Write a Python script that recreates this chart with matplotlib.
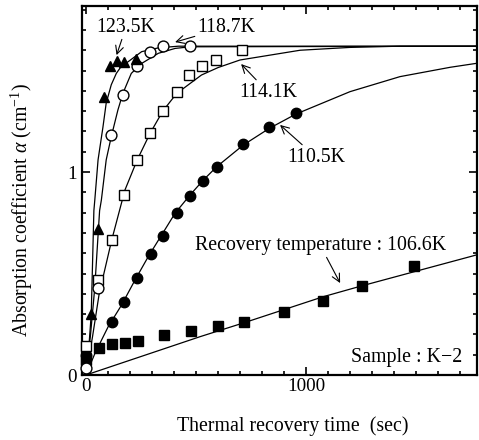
import matplotlib
matplotlib.use("Agg")
import matplotlib.pyplot as plt
from matplotlib.ticker import MultipleLocator, FixedLocator

plt.rcParams['font.family'] = ['Liberation Serif', 'DejaVu Serif']
plt.rcParams['mathtext.fontset'] = 'custom'
plt.rcParams['mathtext.rm'] = 'Liberation Serif'
plt.rcParams['mathtext.it'] = 'Liberation Serif:italic'

# ---- measured data points (time in sec, absorption coefficient in cm^-1) ----
t_1235 = [24, 55, 80, 109, 142, 173, 229]
a_1235 = [0.30, 0.72, 1.37, 1.52, 1.547, 1.543, 1.555]

t_1187 = [0, 56, 112, 170, 230, 291, 349, 471]
a_1187 = [0.033, 0.43, 1.18, 1.38, 1.52, 1.59, 1.62, 1.62]

t_1141 = [0, 56, 117, 174, 233, 291, 349, 412, 470, 529, 591, 710]
a_1141 = [0.144, 0.47, 0.665, 0.887, 1.06, 1.19, 1.30, 1.395, 1.48, 1.52, 1.55, 1.60]

t_1105 = [0, 117, 174, 233, 295, 351, 412, 473, 533, 594, 715, 833, 953]
a_1105 = [0.10, 0.263, 0.361, 0.476, 0.596, 0.685, 0.80, 0.883, 0.956, 1.026, 1.14, 1.22, 1.29]

t_1066 = [0, 59, 120, 177, 238, 356, 477, 598, 718, 900, 1079, 1256, 1492]
a_1066 = [0.075, 0.134, 0.153, 0.156, 0.167, 0.197, 0.218, 0.241, 0.263, 0.312, 0.365, 0.44, 0.538]

# ---- fitted curves ----
ct_1235 = [0, 12, 24, 36, 40, 55, 77, 92, 115, 138, 160, 191, 253, 330, 420, 1790]
ca_1235 = [0, 0.12, 0.30, 0.81, 0.86, 1.06, 1.22, 1.34, 1.43, 1.486, 1.52, 1.543, 1.593, 1.612, 1.62, 1.62]

ct_1187 = [0, 20, 40, 62, 70, 92, 115, 145, 168, 206, 253, 329, 405, 473, 1790]
ca_1187 = [0, 0.19, 0.43, 0.81, 0.862, 1.06, 1.174, 1.305, 1.388, 1.486, 1.535, 1.585, 1.609, 1.617, 1.62]

ct_1141 = [0, 30, 60, 117, 177, 233, 291, 349, 412, 525, 601, 700, 973, 1200, 1427, 1790]
ca_1141 = [0, 0.19, 0.40, 0.665, 0.911, 1.06, 1.19, 1.30, 1.387, 1.478, 1.515, 1.552, 1.60, 1.614, 1.62, 1.62]

ct_1105 = [0, 41, 101, 162, 223, 283, 344, 405, 473, 533, 594, 715, 833, 953, 1200, 1427, 1655, 1790]
ca_1105 = [0, 0.107, 0.238, 0.345, 0.468, 0.583, 0.69, 0.797, 0.887, 0.96, 1.026, 1.133, 1.215, 1.285, 1.396, 1.47, 1.516, 1.538]

ct_1066 = [0, 519, 720, 1079, 1256, 1790]
ca_1066 = [0, 0.189, 0.258, 0.386, 0.44, 0.596]

fig = plt.figure(figsize=(4.79, 4.40), dpi=100)
ax = fig.add_axes([82/479, 1-375/440, (477-82)/479, (375-6)/440])

lw = 0.9
for ct, ca in [(ct_1235, ca_1235), (ct_1187, ca_1187), (ct_1141, ca_1141),
               (ct_1105, ca_1105), (ct_1066, ca_1066)]:
    ax.plot(ct, ca, color='black', lw=lw, zorder=2)

ms = 7
ax.plot(t_1066, a_1066, ls='none', marker='s', ms=ms, mfc='black', mec='black', zorder=3, clip_on=False)
ax.plot(t_1105, a_1105, ls='none', marker='o', ms=ms + 0.5, mfc='black', mec='black', zorder=3, clip_on=False)
ax.plot(t_1141, a_1141, ls='none', marker='s', ms=ms, mfc='white', mec='black', mew=1.0, zorder=4, clip_on=False)
ax.plot(t_1187, a_1187, ls='none', marker='o', ms=ms + 0.8, mfc='white', mec='black', mew=1.0, zorder=5, clip_on=False)
ax.plot(t_1235, a_1235, ls='none', marker='^', ms=ms + 0.3, mfc='black', mec='black', zorder=6, clip_on=False)

ax.set_xlim(-18, 1777)
ax.set_ylim(0, 1.818)

ax.xaxis.set_major_locator(FixedLocator([0, 1000]))
ax.xaxis.set_minor_locator(MultipleLocator(100))
ax.yaxis.set_major_locator(FixedLocator([0, 1]))
ax.yaxis.set_minor_locator(MultipleLocator(0.1))
ax.set_xticklabels(['0', '1000'])
ax.set_yticklabels(['0', '1'])

fs = 14.3
ax.tick_params(which='both', direction='in', top=True, right=True, labelsize=13.8, width=1.2)
ax.tick_params(which='major', length=6)
ax.tick_params(which='minor', length=3)
ax.tick_params(axis='x', pad=2)
ax.tick_params(axis='y', pad=4)
for s in ax.spines.values():
    s.set_linewidth(1.6)

ax.set_xlabel('Thermal recovery time  (sec)', fontsize=fs)
ax.set_ylabel(r'Absorption coefficient $\alpha$ (cm$^{-1}$)', fontsize=fs)
ax.xaxis.set_label_coords(0.534, -0.112)
ax.yaxis.set_label_coords(-0.12, 0.447)

arr = dict(arrowstyle='->', lw=0.8, color='black', shrinkA=0, shrinkB=0)
ax.annotate('123.5K', xy=(139, 1.576), xytext=(182, 1.714), ha='center', va='center',
            fontsize=fs, arrowprops=arr)
ax.annotate('118.7K', xy=(405, 1.64), xytext=(639, 1.714), ha='center', va='center',
            fontsize=fs, arrowprops=arr)
ax.annotate('114.1K', xy=(705, 1.532), xytext=(827, 1.394), ha='center', va='center',
            fontsize=fs, arrowprops=arr)
ax.annotate('110.5K', xy=(882, 1.232), xytext=(1045, 1.074), ha='center', va='center',
            fontsize=fs, arrowprops=arr)
ax.annotate('Recovery temperature : 106.6K', xy=(1155, 0.453), xytext=(1064, 0.64),
            ha='center', va='center', fontsize=fs, arrowprops=arr)
ax.text(1709, 0.084, 'Sample : K\u22122', ha='right', va='center', fontsize=fs)

fig.savefig('out.png', dpi=100)
